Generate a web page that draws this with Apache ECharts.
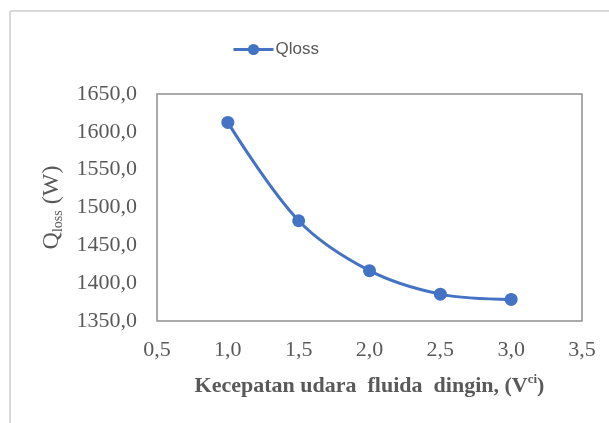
<!DOCTYPE html>
<html>
<head>
<meta charset="utf-8">
<script src="https://cdn.jsdelivr.net/npm/echarts@6/dist/echarts.min.js"></script>
<style>
  html, body { margin: 0; padding: 0; background: #fff; }
  #chart { width: 609px; height: 423px; }
</style>
</head>
<body>
<div id="chart"></div>
<script>
// Cold-fluid air velocity (V_ci) and the resulting heat loss Q_loss in watts
const velocity = [1.0, 1.5, 2.0, 2.5, 3.0];
const qLoss = [1612.5, 1482.5, 1416.5, 1385.5, 1378.5];
const seriesName = 'Qloss';

const X_MIN = 0.5, X_MAX = 3.5, X_STEP = 0.5;
const Y_MIN = 1350, Y_MAX = 1650, Y_STEP = 50;

const grey = '#595959';
const blue = '#4472C4';
const serif = '"Liberation Serif", "Times New Roman", serif';

const comma = (v) => v.toFixed(1).replace('.', ',');

const chart = echarts.init(document.getElementById('chart'), null, { renderer: 'canvas' });

chart.setOption({
  animation: false,
  backgroundColor: '#fff',
  graphic: [
    // outer chart-area frame (top and left edges)
    { type: 'line', shape: { x1: 10, y1: 11, x2: 609, y2: 11 }, style: { stroke: '#d9d9d9', lineWidth: 2 } },
    { type: 'line', shape: { x1: 10, y1: 11, x2: 10, y2: 423 }, style: { stroke: '#d9d9d9', lineWidth: 2 } }
  ],
  legend: {
    data: [seriesName],
    left: 227,
    top: 36,
    itemWidth: 40,
    itemHeight: 14,
    itemGap: 4,
    lineStyle: { width: 3 },
    textStyle: { color: grey, fontSize: 17, fontFamily: '"Liberation Sans", Arial, sans-serif', padding: [0, 0, 0, -3] }
  },
  grid: {
    left: 157,
    right: 27,
    top: 94,
    bottom: 102,
    show: true,
    borderColor: '#8f8f8f',
    borderWidth: 1.5,
    containLabel: false
  },
  xAxis: {
    type: 'value',
    min: X_MIN,
    max: X_MAX,
    interval: X_STEP,
    axisLine: { show: false },
    axisTick: { show: false },
    splitLine: { show: false },
    axisLabel: {
      color: grey,
      fontSize: 22,
      fontFamily: serif,
      margin: 18,
      formatter: comma
    },
    name: '{t|Kecepatan udara  fluida  dingin, (V}{sup|ci}{t|)}',
    nameLocation: 'middle',
    nameGap: 52,
    nameTextStyle: {
      rich: {
        t: { color: grey, fontSize: 22, fontWeight: 'bold', fontFamily: serif, lineHeight: 26 },
        sup: { color: grey, fontSize: 13, fontWeight: 'bold', fontFamily: serif, verticalAlign: 'top', lineHeight: 26, padding: [0, 0, 8, 0] }
      }
    }
  },
  yAxis: {
    type: 'value',
    min: Y_MIN,
    max: Y_MAX,
    interval: Y_STEP,
    axisLine: { show: false },
    axisTick: { show: false },
    splitLine: { show: false },
    axisLabel: {
      color: grey,
      fontSize: 22,
      fontFamily: serif,
      margin: 20,
      padding: [6, 0, 0, 0],
      formatter: comma
    },
    name: '{t|Q}{sub|loss}{t| (W)}',
    nameLocation: 'middle',
    nameGap: 82,
    nameRotate: 90,
    nameTextStyle: {
      rich: {
        t: { color: grey, fontSize: 24, fontFamily: serif, lineHeight: 28 },
        sub: { color: grey, fontSize: 14, fontFamily: serif, verticalAlign: 'bottom', lineHeight: 28, padding: [7, 0, 0, 0] }
      }
    }
  },
  series: [{
    name: seriesName,
    type: 'line',
    data: velocity.map((v, i) => [v, qLoss[i]]),
    smooth: 0.35,
    symbol: 'circle',
    symbolSize: 13,
    lineStyle: { color: blue, width: 3 },
    itemStyle: { color: blue }
  }]
});
</script>
</body>
</html>
